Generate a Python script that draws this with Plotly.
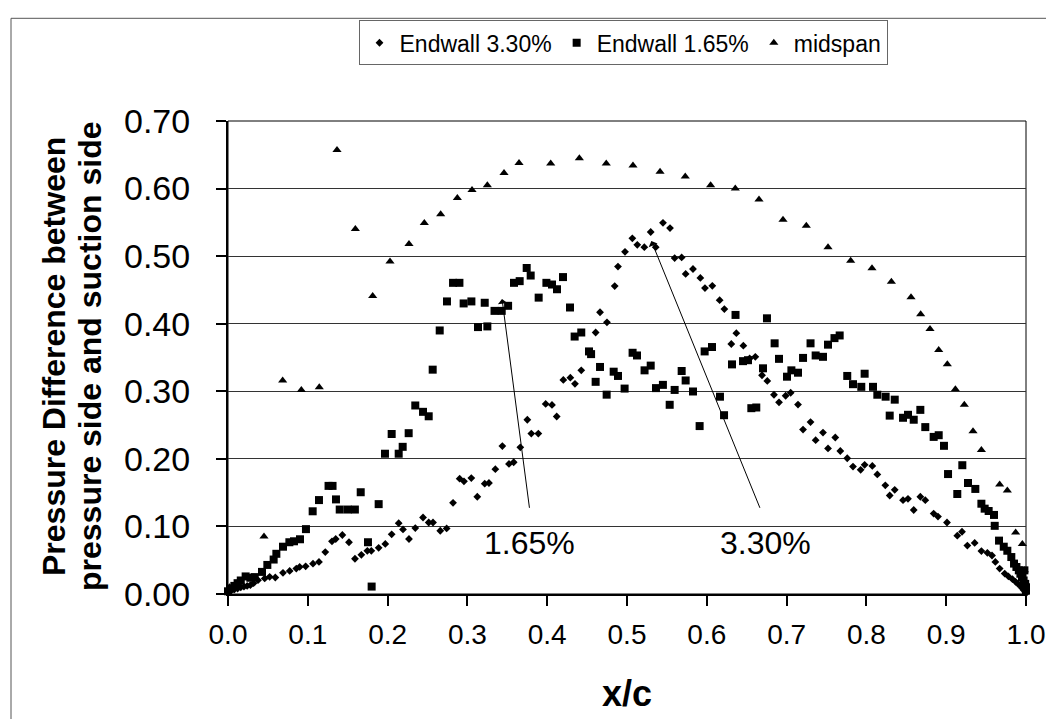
import plotly.graph_objects as go

# ---------------- data ----------------
ew330_x = [0.000, 0.004, 0.008, 0.012, 0.016, 0.020, 0.024, 0.028, 0.032, 0.0376, 0.046, 0.0522, 0.0593,
           0.0689, 0.0773, 0.0856, 0.0898, 0.0973, 0.1065, 0.114, 0.1219, 0.1303, 0.135, 0.1433, 0.1516,
           0.1591, 0.1671, 0.1746, 0.1796, 0.1888, 0.1971, 0.2051, 0.2139, 0.2193, 0.2268, 0.2347, 0.2444,
           0.2515, 0.2569, 0.266, 0.274, 0.282, 0.2903, 0.2957, 0.3049, 0.3124, 0.3217, 0.327, 0.335,
           0.3438, 0.3521, 0.358, 0.3663, 0.3751, 0.3801, 0.3889, 0.3981, 0.406, 0.4119, 0.4202, 0.429,
           0.4348, 0.4427, 0.4607, 0.4662, 0.4749, 0.4846, 0.4887, 0.4975, 0.5067, 0.5129, 0.5217, 0.5297,
           0.536, 0.5451, 0.5539, 0.5597, 0.5685, 0.5735, 0.5827, 0.5919, 0.5977, 0.6069, 0.6161, 0.622,
           0.6307, 0.637, 0.6458, 0.6537, 0.6608, 0.6692, 0.6758, 0.6842, 0.6905, 0.6988, 0.7051, 0.7143,
           0.7206, 0.730, 0.7364, 0.7456, 0.7519, 0.761, 0.7673, 0.776, 0.7832, 0.7928, 0.7978, 0.8074,
           0.8137, 0.8237, 0.8292, 0.8355, 0.8459, 0.8521, 0.8593, 0.8676, 0.8738, 0.8843, 0.8897, 0.901,
           0.9139, 0.9198, 0.9265, 0.9357, 0.9441, 0.9516, 0.9574, 0.9616, 0.967, 0.9733, 0.978, 0.983,
           0.987, 0.990, 0.993, 0.995, 0.997, 0.999, 1.000]
ew330_y = [0.003, 0.005, 0.007, 0.008, 0.010, 0.011, 0.012, 0.013, 0.016, 0.0205, 0.023, 0.0254, 0.0244,
           0.0313, 0.0342, 0.0376, 0.040, 0.041, 0.0449, 0.0474, 0.062, 0.078, 0.0814, 0.0873, 0.0766,
           0.0522, 0.058, 0.0639, 0.0639, 0.0683, 0.0741, 0.0883, 0.1048, 0.0956, 0.0814, 0.0975, 0.1132,
           0.1058, 0.1058, 0.0936, 0.097, 0.135, 0.1706, 0.1667, 0.1716, 0.1439, 0.1633, 0.1643, 0.1848,
           0.2189, 0.1925, 0.195, 0.217, 0.2579, 0.2374, 0.2374, 0.2813, 0.2798, 0.2627, 0.3168, 0.3202,
           0.311, 0.331, 0.387, 0.417, 0.402, 0.4557, 0.4845, 0.5064, 0.5263, 0.5167, 0.5132, 0.5357,
           0.5132, 0.5493, 0.5415, 0.4971, 0.4981, 0.4737, 0.481, 0.4678, 0.4528, 0.4561, 0.4348, 0.4216,
           0.370, 0.386, 0.3675, 0.3485, 0.351, 0.3237, 0.3154, 0.2949, 0.2836, 0.2934, 0.2978, 0.2803,
           0.2433, 0.2544, 0.2276, 0.2389, 0.2155, 0.2316, 0.2116, 0.2009, 0.1886, 0.1838, 0.1911, 0.1896,
           0.1769, 0.1608, 0.1458, 0.1541, 0.1389, 0.1409, 0.1243, 0.1439, 0.1389, 0.119, 0.1146, 0.1058,
           0.0863, 0.0921, 0.0716, 0.0756, 0.0635, 0.061, 0.057, 0.0474, 0.0376, 0.0303, 0.026, 0.022,
           0.018, 0.015, 0.012, 0.009, 0.006, 0.003, 0.001]

ew165_x = [0.000, 0.004, 0.008, 0.012, 0.016, 0.0221, 0.028, 0.0334, 0.0426, 0.0493, 0.0572, 0.0606,
           0.0689, 0.0769, 0.0827, 0.0902, 0.0977, 0.1061, 0.114, 0.126, 0.131, 0.1353, 0.140, 0.150,
           0.159, 0.1663, 0.1754, 0.180, 0.1888, 0.1967, 0.2051, 0.2139, 0.2189, 0.2264, 0.2347, 0.2444,
           0.2515, 0.2565, 0.2653, 0.2744, 0.282, 0.290, 0.2953, 0.305, 0.3133, 0.3217, 0.325, 0.334,
           0.343, 0.351, 0.3584, 0.3655, 0.3743, 0.3793, 0.3893, 0.399, 0.406, 0.4123, 0.4198, 0.4286,
           0.4344, 0.4427, 0.4524, 0.455, 0.4607, 0.4662, 0.4745, 0.4833, 0.4887, 0.497, 0.507, 0.5125,
           0.522, 0.5297, 0.5363, 0.545, 0.5535, 0.5597, 0.5685, 0.5735, 0.5827, 0.591, 0.5973, 0.6065,
           0.6165, 0.6216, 0.6316, 0.636, 0.6454, 0.6516, 0.6558, 0.662, 0.6704, 0.6754, 0.685, 0.6905,
           0.7005, 0.706, 0.7143, 0.7206, 0.730, 0.7364, 0.7456, 0.7519, 0.760, 0.7665, 0.776, 0.7832,
           0.7936, 0.7978, 0.8083, 0.8137, 0.8241, 0.8292, 0.8355, 0.8459, 0.8521, 0.8593, 0.8676, 0.8738,
           0.8843, 0.8906, 0.8972, 0.9023, 0.9139, 0.9202, 0.9273, 0.9365, 0.9441, 0.9482, 0.9532, 0.9599,
           0.9608, 0.9662, 0.9721, 0.9766, 0.9816, 0.985, 0.988, 0.991, 0.993, 0.995, 0.997, 0.998,
           0.999, 1.000, 1.000]
ew165_y = [0.004, 0.008, 0.012, 0.016, 0.020, 0.026, 0.024, 0.025, 0.0327, 0.043, 0.051, 0.0595,
           0.070, 0.0766, 0.078, 0.081, 0.096, 0.1224, 0.139, 0.160, 0.160, 0.140, 0.125, 0.125,
           0.125, 0.1506, 0.0766, 0.011, 0.133, 0.2076, 0.2368, 0.2076, 0.2178, 0.238, 0.279, 0.2696,
           0.263, 0.332, 0.390, 0.433, 0.4605, 0.4605, 0.430, 0.433, 0.395, 0.431, 0.396, 0.419,
           0.419, 0.4265, 0.4605, 0.463, 0.4825, 0.4713, 0.4386, 0.4605, 0.458, 0.451, 0.469, 0.424,
           0.381, 0.387, 0.359, 0.355, 0.314, 0.336, 0.295, 0.329, 0.3227, 0.304, 0.357, 0.353,
           0.331, 0.338, 0.3047, 0.3095, 0.280, 0.302, 0.330, 0.316, 0.2997, 0.2485, 0.359, 0.3655,
           0.292, 0.2646, 0.3398, 0.413, 0.3446, 0.346, 0.275, 0.276, 0.334, 0.408, 0.371, 0.348,
           0.3216, 0.331, 0.3275, 0.3494, 0.371, 0.353, 0.351, 0.369, 0.3787, 0.3826, 0.3227, 0.3105,
           0.3066, 0.326, 0.3066, 0.2949, 0.292, 0.264, 0.2876, 0.2608, 0.2652, 0.2579, 0.2725, 0.247,
           0.2325, 0.235, 0.2193, 0.1775, 0.148, 0.1906, 0.1643, 0.1555, 0.1336, 0.1263, 0.1228, 0.117,
           0.1009, 0.079, 0.070, 0.064, 0.0547, 0.045, 0.040, 0.035, 0.030, 0.025, 0.020, 0.035,
           0.015, 0.010, 0.005]

mid_x = [0.002, 0.0451, 0.0685, 0.0919, 0.1144, 0.1366, 0.1596, 0.1813, 0.203, 0.2268, 0.246, 0.2665,
         0.2874, 0.3058, 0.325, 0.3459, 0.3647, 0.4044, 0.4403, 0.474, 0.5075, 0.5414, 0.573, 0.6048,
         0.6357, 0.6654, 0.6955, 0.7247, 0.7519, 0.7803, 0.807, 0.8313, 0.8559, 0.868, 0.8797, 0.8906,
         0.9014, 0.9115, 0.9227, 0.9336, 0.9441, 0.967, 0.9766, 0.987, 0.9954, 0.998]
mid_y = [0.010, 0.085, 0.316, 0.302, 0.306, 0.657, 0.540, 0.441, 0.492, 0.518, 0.549, 0.562,
         0.586, 0.598, 0.605, 0.623, 0.638, 0.637, 0.645, 0.637, 0.634, 0.625, 0.618, 0.605,
         0.600, 0.584, 0.554, 0.545, 0.513, 0.493, 0.482, 0.462, 0.439, 0.414, 0.392, 0.361,
         0.340, 0.303, 0.280, 0.241, 0.213, 0.162, 0.153, 0.091, 0.074, 0.035]

series_names = ["Endwall 3.30%", "Endwall 1.65%", "midspan"]
x_ticks = [0.0, 0.1, 0.2, 0.3, 0.4, 0.5, 0.6, 0.7, 0.8, 0.9, 1.0]
y_ticks = [0.0, 0.1, 0.2, 0.3, 0.4, 0.5, 0.6, 0.7]
y_title_lines = ["Pressure Difference between", "pressure side and suction side"]
x_title = "x/c"

# label annotations and arrows (tail -> head, data units)
label_texts = ["1.65%", "3.30%"]
label_x = [0.378, 0.673]
label_y = [0.0756, 0.0756]
arrow_tail_x = [0.378, 0.6673]
arrow_tail_y = [0.1253, 0.1253]
arrow_head_x = [0.3434, 0.5305]
arrow_head_y = [0.4367, 0.5225]

FONT = "Liberation Sans, Arial, sans-serif"

fig = go.Figure()
fig.add_trace(go.Scatter(x=ew330_x, y=ew330_y, mode="markers", name=series_names[0],
                         marker=dict(symbol="diamond", size=6, color="black"), cliponaxis=False))
fig.add_trace(go.Scatter(x=ew165_x, y=ew165_y, mode="markers", name=series_names[1],
                         marker=dict(symbol="square", size=8, color="black"), cliponaxis=False))
fig.add_trace(go.Scatter(x=mid_x, y=mid_y, mode="markers", name=series_names[2],
                         marker=dict(symbol="triangle-up", size=8, color="black"), cliponaxis=False))

W, H = 1054, 719
L, R, T, B = 220, 36, 107, 133
pw, ph = W - L - R, H - T - B

def px2paper_x(px):
    return (px - L) / pw

def px2paper_y(py):
    return (H - B - py) / ph

annotations = []
for t, x, y in zip(label_texts, label_x, label_y):
    annotations.append(dict(x=x, y=y, xref="x", yref="y", text=t, showarrow=False,
                            xanchor="center", yanchor="middle",
                            font=dict(family=FONT, size=32, color="black")))
for tx, ty, hx, hy in zip(arrow_tail_x, arrow_tail_y, arrow_head_x, arrow_head_y):
    annotations.append(dict(x=hx, y=hy, ax=tx, ay=ty, xref="x", yref="y", axref="x", ayref="y",
                            text="", showarrow=True, arrowhead=1, arrowsize=1.6, arrowwidth=1,
                            arrowcolor="black", standoff=0, startstandoff=0))
for line, cx in zip(y_title_lines, [46, 82]):
    annotations.append(dict(x=px2paper_x(cx), y=px2paper_y(346), xref="paper", yref="paper",
                            xanchor="center", yanchor="middle",
                            text="<b>" + line + "</b>", textangle=-90, showarrow=False,
                            font=dict(family=FONT, size=32, color="black")))
annotations.append(dict(x=0.5, y=px2paper_y(687), xref="paper", yref="paper",
                        xanchor="center", yanchor="middle",
                        text="<b>" + x_title + "</b>", showarrow=False,
                        font=dict(family=FONT, size=36, color="black")))

shapes = [
    dict(type="rect", xref="paper", yref="paper", x0=0, x1=1, y0=0, y1=1,
         line=dict(color="black", width=1), layer="below"),
    dict(type="rect", xref="paper", yref="paper",
         x0=px2paper_x(3), x1=px2paper_x(1050), y0=px2paper_y(716), y1=px2paper_y(3),
         line=dict(color="#555555", width=1)),
]

fig.update_layout(
    width=W, height=H,
    margin=dict(l=L, r=R, t=T, b=B, pad=0),
    paper_bgcolor="white", plot_bgcolor="white",
    font=dict(family=FONT, color="black"),
    showlegend=True,
    legend=dict(orientation="h", x=px2paper_x(615), xanchor="center",
                y=px2paper_y(5), yanchor="top",
                font=dict(family=FONT, size=23, color="black"),
                bordercolor="#666666", borderwidth=1, bgcolor="white",
                itemwidth=30, tracegroupgap=0),
    annotations=annotations,
    shapes=shapes,
)
fig.update_xaxes(range=[0, 1.0], tickvals=x_ticks, ticktext=[f"{v:.1f}" for v in x_ticks],
                 showgrid=False, zeroline=False, showline=True, linecolor="black", linewidth=2,
                 ticks="outside", ticklen=10, tickwidth=2, tickcolor="black",
                 ticklabelstandoff=4,
                 tickfont=dict(family=FONT, size=28, color="black"))
fig.update_yaxes(range=[0, 0.70], tickvals=y_ticks, ticktext=[f"{v:.2f}" for v in y_ticks],
                 showgrid=True, gridcolor="#333333", gridwidth=1, zeroline=False,
                 showline=True, linecolor="black", linewidth=2,
                 ticks="outside", ticklen=10, tickwidth=2, tickcolor="black",
                 ticklabelstandoff=19,
                 tickfont=dict(family=FONT, size=34, color="black"))

fig.write_html("out.html")
